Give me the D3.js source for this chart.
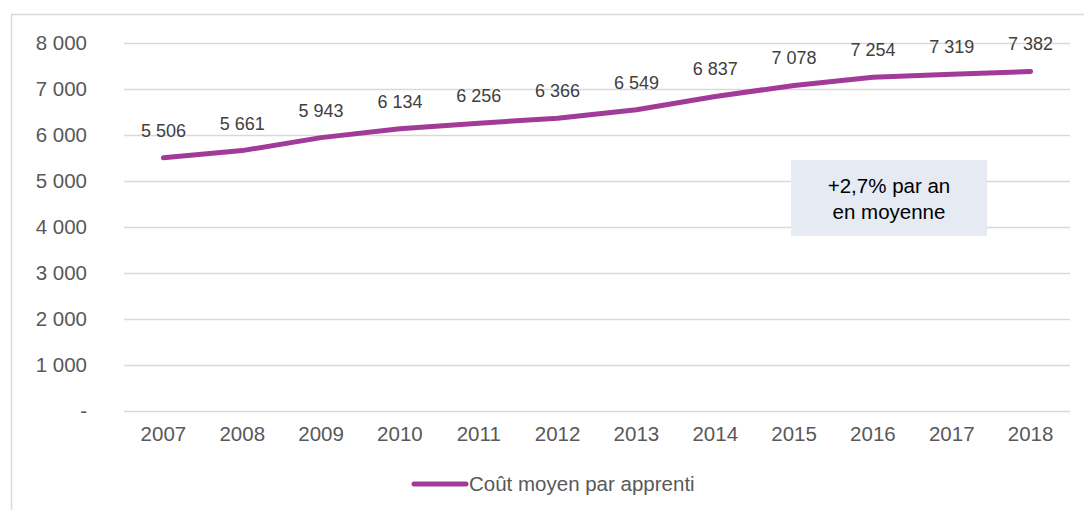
<!DOCTYPE html>
<html><head><meta charset="utf-8">
<script src="https://cdn.jsdelivr.net/npm/d3@7"></script>
<style>body{margin:0;background:#fff;font-family:Arial,"Liberation Sans",sans-serif}</style>
</head><body>
<svg id="c" width="1084" height="510"></svg>
<script>
const years = ["2007","2008","2009","2010","2011","2012","2013","2014","2015","2016","2017","2018"];
const values = [5506,5661,5943,6134,6256,6366,6549,6837,7078,7254,7319,7382];
const yTicks = [0,1000,2000,3000,4000,5000,6000,7000,8000];
const seriesName = "Coût moyen par apprenti";
const note = ["+2,7% par an","en moyenne"];

const svg = d3.select("#c");
const fmt = v => v === 0 ? "-" : d3.format(",")(v).replace(/,/g, " ");
const col = "#a23a98";
const ff = "Arial, Liberation Sans, sans-serif";

svg.append("rect").attr("x",11.5).attr("y",14.5).attr("width",1090).attr("height",510)
  .attr("fill","none").attr("stroke","#d9d9d9").attr("stroke-width",1.5);

const x = d3.scaleBand().domain(years).range([124,1070]);
const y = d3.scaleLinear().domain([0,8000]).range([411,43]);

const grid = svg.append("g");
grid.selectAll("line").data(yTicks).join("line")
  .attr("x1",124).attr("x2",1070).attr("y1",d=>Math.round(y(d))+0.5).attr("y2",d=>Math.round(y(d))+0.5)
  .attr("stroke","#d9d9d9").attr("stroke-width",1.5);

const yAxis = svg.append("g").attr("transform","translate(87,0)")
  .call(d3.axisLeft(y).tickValues(yTicks).tickFormat(fmt).tickSize(0).tickPadding(0));
yAxis.select(".domain").remove();
yAxis.selectAll("text").attr("font-size",20.5).attr("fill","#595959").attr("font-family",ff);

const xAxis = svg.append("g").attr("transform","translate(0,411)")
  .call(d3.axisBottom(x).tickSize(0).tickPadding(15));
xAxis.select(".domain").remove();
xAxis.selectAll("text").attr("font-size",20.5).attr("fill","#595959").attr("font-family",ff);

const cx = d => x(d) + x.bandwidth()/2;
const line = d3.line().x((d,i)=>cx(years[i])).y(d=>y(d));
svg.append("path").datum(values).attr("d",line).attr("fill","none")
  .attr("stroke",col).attr("stroke-width",5).attr("stroke-linecap","round").attr("stroke-linejoin","round");

svg.append("g").selectAll("text").data(values).join("text")
  .attr("x",(d,i)=>cx(years[i])).attr("y",d=>y(d)-21)
  .attr("text-anchor","middle").attr("font-size",18).attr("fill","#404040").attr("font-family",ff)
  .text(fmt);

svg.append("rect").attr("x",791).attr("y",160).attr("width",196).attr("height",76).attr("fill","#e5eaf3");
svg.append("g").selectAll("text").data(note).join("text")
  .attr("x",889).attr("y",(d,i)=>193+i*26).attr("text-anchor","middle").attr("font-family",ff)
  .attr("font-size",20.5).attr("fill","#000").text(d=>d);

svg.append("line").attr("x1",414).attr("x2",466).attr("y1",484).attr("y2",484)
  .attr("stroke",col).attr("stroke-width",5).attr("stroke-linecap","round");
svg.append("text").attr("x",469).attr("y",491).attr("font-size",20.5).attr("font-family",ff).attr("fill","#595959").text(seriesName);
</script>
</body></html>
